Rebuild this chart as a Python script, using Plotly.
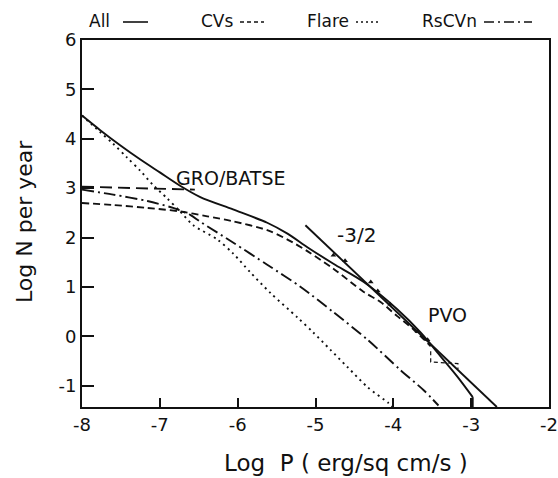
import plotly.graph_objects as go

# ---- data ----
all_x = [-8.0, -7.77, -7.51, -7.25, -7.0, -6.74, -6.48, -6.06, -5.62, -5.36, -5.10, -4.77, -4.38, -3.95, -3.65, -3.39, -3.17, -2.98, -2.98]
all_y = [4.47, 4.18, 3.87, 3.58, 3.32, 3.05, 2.82, 2.57, 2.30, 2.08, 1.80, 1.47, 1.10, 0.55, 0.08, -0.41, -0.83, -1.23, -1.45]

cvs_x = [-8.0, -7.6, -7.16, -6.74, -6.39, -6.06, -5.62, -5.36, -5.10, -4.77, -4.38, -4.16, -3.95, -3.74, -3.52]
cvs_y = [2.70, 2.66, 2.60, 2.53, 2.43, 2.33, 2.15, 1.96, 1.72, 1.37, 0.90, 0.69, 0.41, 0.14, -0.20]

flare_x = [-8.0, -7.77, -7.6, -7.42, -7.25, -7.09, -6.91, -6.74, -6.57, -6.26, -6.06, -5.84, -5.58, -5.23, -5.03, -4.81, -4.59, -4.33, -4.07, -4.0]
flare_y = [4.47, 4.14, 3.90, 3.62, 3.35, 3.07, 2.80, 2.53, 2.25, 1.96, 1.68, 1.30, 0.88, 0.38, 0.08, -0.27, -0.62, -1.03, -1.34, -1.44]

rscvn_x = [-8.0, -7.6, -7.16, -6.83, -6.61, -6.48, -6.06, -5.62, -5.19, -4.77, -4.33, -3.91, -3.61, -3.42]
rscvn_y = [2.97, 2.87, 2.74, 2.60, 2.46, 2.32, 1.90, 1.45, 1.00, 0.49, -0.07, -0.68, -1.09, -1.40]

slope_x = [-5.13, -2.67]
slope_y = [2.25, -1.43]

gro_x = [-8.0, -6.55]
gro_y = [3.03, 2.97]

pvo_x = [-4.77, -4.62, -4.29, -4.20, -4.04, -3.69, -3.56]
pvo_y = [1.64, 1.53, 1.10, 0.92, 0.65, 0.10, -0.07]

pvo_box_x = [-3.52, -3.52, -3.17, -3.17]
pvo_box_y = [-0.30, -0.52, -0.55, -0.66]

x_ticks = [-8, -7, -6, -5, -4, -3, -2]
x_ticktext = ["-8", "-7", "-6", "-5", "-4", "-3", "-2"]
y_ticks = [-1, 0, 1, 2, 3, 4, 5, 6]
y_ticktext = ["-1", "0", "1", "2", "3", "4", "5", "6"]

FONT = "DejaVu Sans"
BLACK = "#111111"

fig = go.Figure()

def line(x, y, dash, width=1.9, shape="spline"):
    fig.add_trace(go.Scatter(x=x, y=y, mode="lines",
                             line=dict(color=BLACK, width=width, dash=dash,
                                       shape=shape, smoothing=0.8 if shape == "spline" else None),
                             hoverinfo="skip", showlegend=False))

line(all_x[:-1], all_y[:-1], "solid")
line(all_x[-2:], all_y[-2:], "solid", shape="linear")
line(cvs_x, cvs_y, "7px,4px")
line(flare_x, flare_y, "2px,4px", 1.9)
line(rscvn_x, rscvn_y, "12px,4px,2px,4px")
line(slope_x, slope_y, "solid", shape="linear")
line(gro_x, gro_y, "12px,6px", shape="linear")
line(pvo_box_x, pvo_box_y, "4px,3px", 1.2, shape="linear")

fig.add_trace(go.Scatter(x=pvo_x, y=pvo_y, mode="markers",
                         marker=dict(symbol="triangle-up", size=5, color=BLACK),
                         hoverinfo="skip", showlegend=False))

axis_common = dict(showline=True, linewidth=2, linecolor=BLACK, mirror=True,
                   showgrid=False, zeroline=False, ticks="inside",
                   tickcolor=BLACK, tickwidth=1.5, automargin=False,
                   tickfont=dict(family=FONT, size=18, color=BLACK))

fig.update_xaxes(range=[-8, -2], tickmode="array", tickvals=x_ticks,
                 ticktext=x_ticktext, ticklen=9, **axis_common)
fig.update_yaxes(range=[-1.43, 6], tickmode="array", tickvals=y_ticks,
                 ticktext=y_ticktext, ticklen=12, **axis_common)

W, H = 558, 478
L, R, T, B = 82, 9, 40, 71
pw, ph = W - L - R, H - T - B

def px2paper(px, py):
    return (px - L) / pw, 1 - (py - T) / ph

anns = []
# Legend-like header text (right-aligned just before each line sample)
for txt, px in [("All", 112), ("CVs", 236), ("Flare", 351), ("RsCVn", 479)]:
    xp, yp = px2paper(px, 21)
    anns.append(dict(text=txt, x=xp, y=yp, xref="paper", yref="paper",
                     xanchor="right", yanchor="middle", showarrow=False,
                     font=dict(family=FONT, size=17, color=BLACK)))

# Text labels in the plot
for txt, x, y, sz in [("GRO/BATSE", -6.08, 3.21, 19), ("-3/2", -4.47, 2.05, 20), ("PVO", -3.30, 0.43, 19)]:
    anns.append(dict(text=txt, x=x, y=y, xref="x", yref="y",
                     xanchor="center", yanchor="middle", showarrow=False,
                     font=dict(family=FONT, size=sz, color=BLACK)))

# axis titles
xp, yp = px2paper(346, 463)
anns.append(dict(text="Log  P ( erg/sq cm/s )", x=xp, y=yp, xref="paper", yref="paper",
                 xanchor="center", yanchor="middle", showarrow=False,
                 font=dict(family=FONT, size=23, color=BLACK)))
xp, yp = px2paper(24, 222)
anns.append(dict(text="Log N per year", x=xp, y=yp, xref="paper", yref="paper",
                 xanchor="center", yanchor="middle", showarrow=False, textangle=-90,
                 font=dict(family=FONT, size=22, color=BLACK)))

# legend line samples
shapes = []
for (x0, x1, dash) in [(123, 148, "solid"), (240, 264, "4px,3px"),
                       (356, 381, "2px,3px"), (484, 532, "10px,4px,2px,4px")]:
    a0, yy = px2paper(x0, 22)
    a1, _ = px2paper(x1, 22)
    shapes.append(dict(type="line", xref="paper", yref="paper", x0=a0, x1=a1,
                       y0=yy, y1=yy, line=dict(color=BLACK, width=1.6, dash=dash)))

fig.update_layout(width=W, height=H, margin=dict(l=L, r=R, t=T, b=B),
                  plot_bgcolor="white", paper_bgcolor="white",
                  showlegend=False, annotations=anns, shapes=shapes,
                  font=dict(family=FONT, color=BLACK))

fig.write_html("out.html")
